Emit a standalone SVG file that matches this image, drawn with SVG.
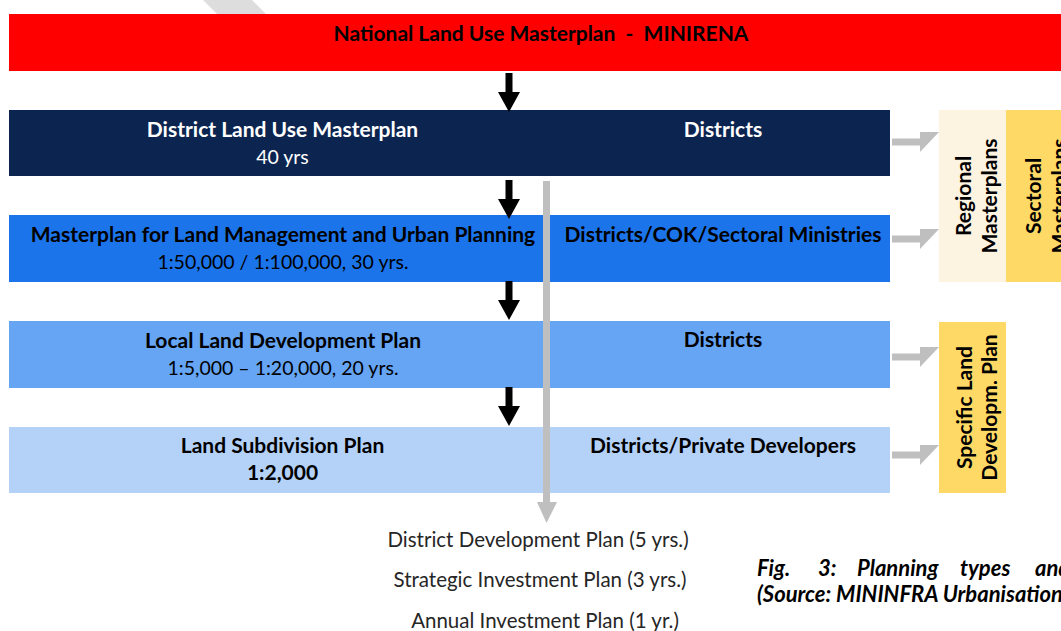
<svg xmlns="http://www.w3.org/2000/svg" width="1061" height="631" viewBox="0 0 1061 631">
  <defs>
    <style>
      text { font-family: Lato, "Open Sans", "Liberation Sans", sans-serif; }
      .t { font-size: 21px; font-weight: bold; text-anchor: middle; }
      .s { font-size: 19.5px; font-weight: normal; text-anchor: middle; }
      .w { fill: #ffffff; }
      .k { fill: #000000; }
      .plain { font-size: 20.5px; fill: #262626; text-anchor: middle; }
      .cap { font-size: 22px; font-weight: bold; font-style: italic; fill: #000000; }
      .rot { font-size: 21px; font-weight: bold; fill: #000000; text-anchor: middle; }
      .gray { fill: #BFBFBF; }
    </style>
    <!-- downward black arrow, origin at top of shaft -->
    <path id="downArrow" d="M-3.5,0 H3.5 V19 H11 L0,39 L-11,19 H-3.5 Z" fill="#000000"/>
    <!-- rightward grey arrow, origin at left end of shaft -->
    <path id="rightArrow" d="M0,-3.5 H28 V-10 H47 L28,10 V3.5 H0 Z" fill="#BFBFBF"/>
  </defs>

  <rect width="1061" height="631" fill="#ffffff"/>

  <!-- faint diagonal stripe behind the header -->
  <polygon points="203,0 252,0 266,14 217,14" fill="#DDDDDD"/>

  <g id="national">
    <rect x="9" y="14" width="1052" height="57" fill="#FF0000"/>
    <text class="t k" x="541" y="41" xml:space="preserve">National Land Use Masterplan  -  MINIRENA</text>
  </g>

  <g id="district-masterplan">
    <rect x="9" y="110" width="881" height="66" fill="#0C2550"/>
    <text class="t w" x="282.5" y="137">District Land Use Masterplan</text>
    <text class="s w" x="282.5" y="164">40 yrs</text>
    <text class="t w" x="723" y="137">Districts</text>
  </g>

  <g id="land-management">
    <rect x="9" y="215" width="881" height="67" fill="#1C74EB"/>
    <text class="t k" x="283" y="242">Masterplan for Land Management and Urban Planning</text>
    <text class="s k" x="283" y="269">1:50,000 / 1:100,000, 30 yrs.</text>
    <text class="t k" x="723" y="242">Districts/COK/Sectoral Ministries</text>
  </g>

  <g id="local-development">
    <rect x="9" y="321" width="881" height="67" fill="#66A4F4"/>
    <text class="t k" x="283" y="348">Local Land Development Plan</text>
    <text class="s k" x="283" y="375">1:5,000 – 1:20,000, 20 yrs.</text>
    <text class="t k" x="723" y="347">Districts</text>
  </g>

  <g id="subdivision">
    <rect x="9" y="427" width="881" height="66" fill="#B4D1F8"/>
    <text class="t k" x="282.5" y="453">Land Subdivision Plan</text>
    <text class="t k" x="282.5" y="480">1:2,000</text>
    <text class="t k" x="723" y="453">Districts/Private Developers</text>
  </g>

  <g id="regional">
    <rect x="939" y="110" width="67" height="172" fill="#FDF3E1"/>
    <text class="rot" transform="translate(971,196) rotate(-90)">Regional</text>
    <text class="rot" transform="translate(997,196) rotate(-90)">Masterplans</text>
  </g>

  <g id="sectoral">
    <rect x="1006" y="110" width="60" height="172" fill="#FED966"/>
    <text class="rot" transform="translate(1041,196) rotate(-90)">Sectoral</text>
    <text class="rot" transform="translate(1067,196) rotate(-90)">Masterplans</text>
  </g>

  <g id="specific">
    <rect x="939" y="322" width="67" height="171" fill="#FED966"/>
    <text class="rot" transform="translate(972,407.5) rotate(-90)">Specific Land</text>
    <text class="rot" transform="translate(997,407.5) rotate(-90)">Developm. Plan</text>
  </g>

  <g id="connectors">
    <use href="#downArrow" transform="translate(509,73)"/>
    <use href="#downArrow" transform="translate(509,180)"/>
    <use href="#downArrow" transform="translate(509,281)"/>
    <use href="#downArrow" transform="translate(509,387)"/>

    <use href="#rightArrow" transform="translate(892,142)"/>
    <use href="#rightArrow" transform="translate(892,239)"/>
    <use href="#rightArrow" transform="translate(892,357)"/>
    <use href="#rightArrow" transform="translate(892,455)"/>

    <!-- grey spine down to the district plans -->
    <path class="gray" d="M543,181 H550 V502 H557 L546.5,523 L537,502 H543 Z"/>
  </g>

  <g id="district-plans">
    <text class="plain" x="538" y="547">District Development Plan (5 yrs.)</text>
    <text class="plain" x="540" y="587">Strategic Investment Plan (3 yrs.)</text>
    <text class="plain" x="545" y="628">Annual Investment Plan (1 yr.)</text>
  </g>

  <g id="caption">
    <text class="cap" y="576"><tspan x="757">Fig.</tspan><tspan x="818">3:</tspan><tspan x="857">Planning</tspan><tspan x="960">types</tspan><tspan x="1035">and</tspan></text>
    <text class="cap" x="757" y="602">(Source: MININFRA Urbanisation</text>
  </g>
</svg>
